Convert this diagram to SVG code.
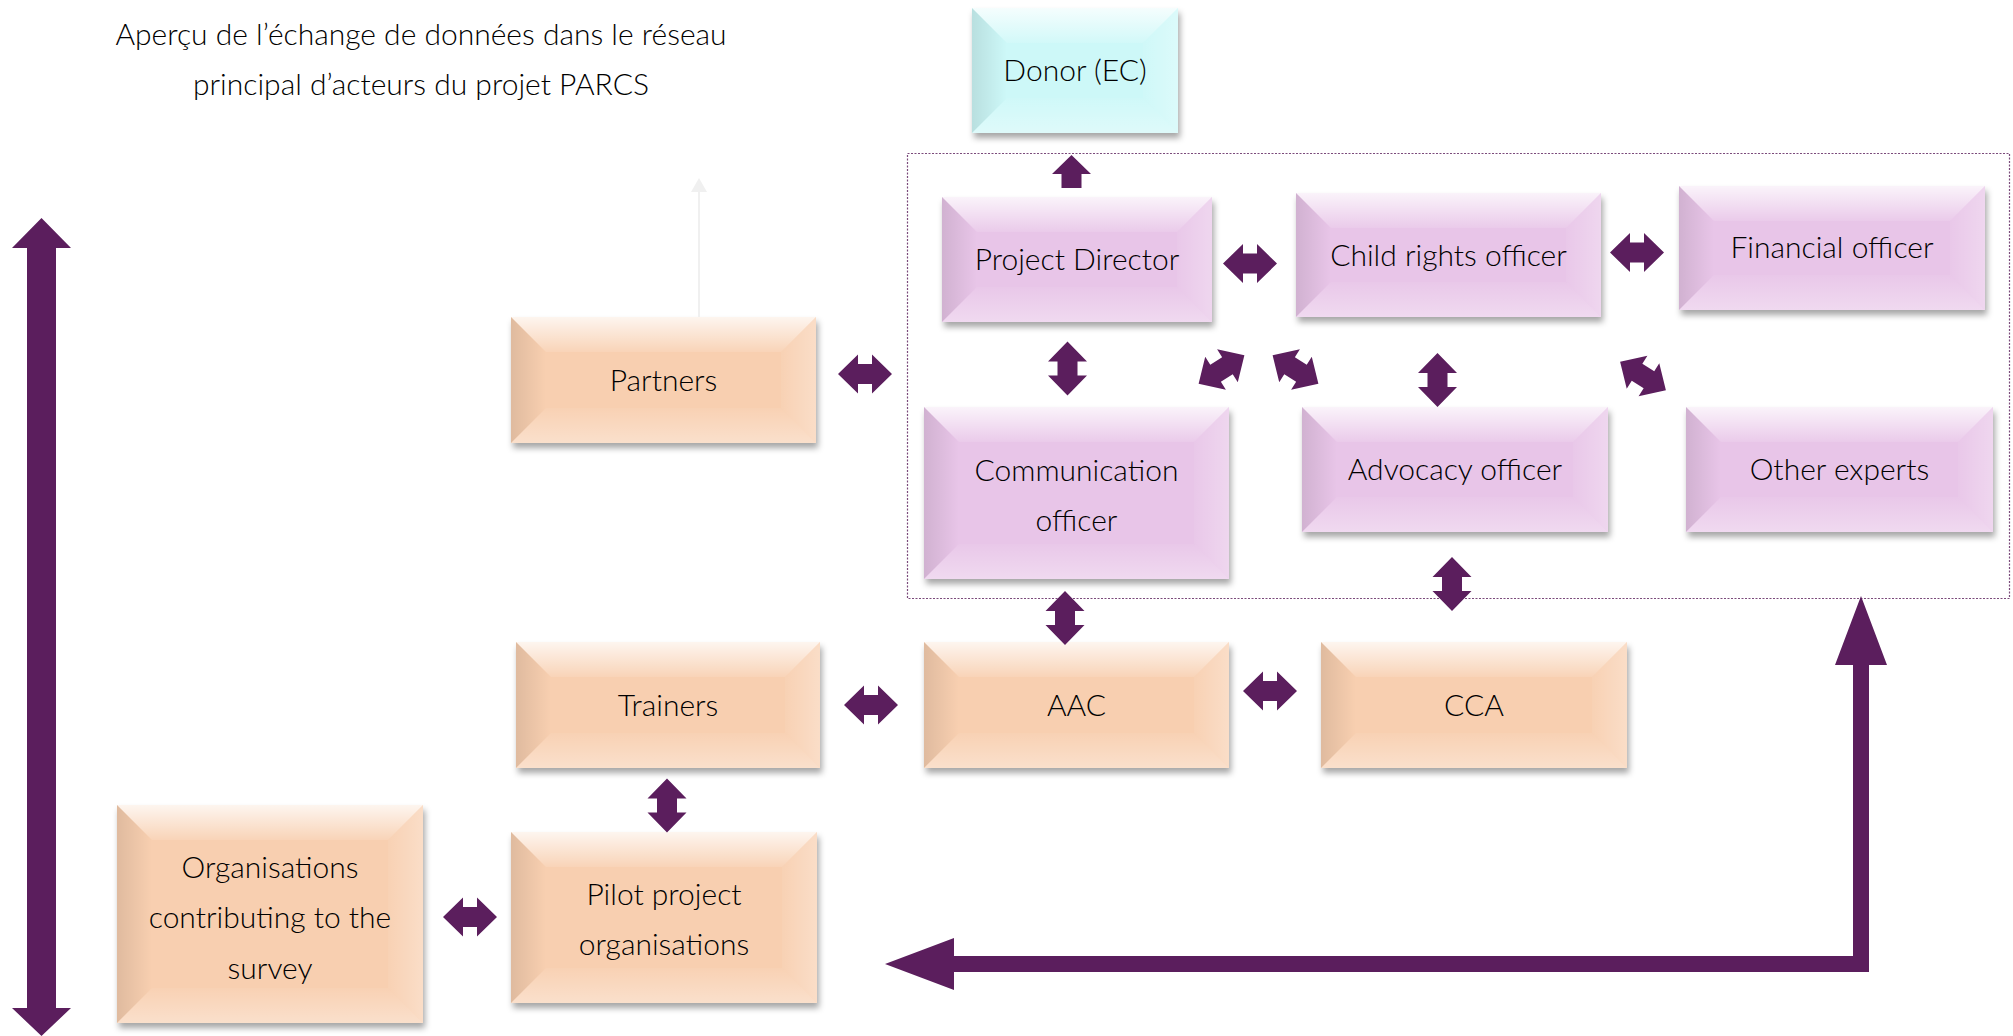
<svg xmlns="http://www.w3.org/2000/svg" width="2013" height="1036" viewBox="0 0 2013 1036">
<style>
.pink{fill:#e8c5e8}
.peach{fill:#f8cfb0}
.cyan{fill:#cdf8f8}
.bt{fill:url(#gTop)}
.bl{fill:url(#gLeft)}
.br{fill:url(#gRight)}
.bb{fill:url(#gBot)}
.lbl{font-family:Lato,"Open Sans","Liberation Sans",sans-serif;font-weight:300;font-size:30px;fill:#000;text-anchor:middle}
.title{font-family:Lato,"Open Sans","Liberation Sans",sans-serif;font-weight:300;font-size:30px;fill:#000;text-anchor:middle}
.arr{fill:#5b1e5d}
</style>
<defs>
<filter id="sh" x="-5%" y="-5%" width="115%" height="125%"><feDropShadow dx="2" dy="5" stdDeviation="3" flood-color="#000" flood-opacity="0.35"/></filter>
<linearGradient id="gTop" x1="0" y1="0" x2="0" y2="1"><stop offset="0" stop-color="#fff" stop-opacity="0.8"/><stop offset="1" stop-color="#fff" stop-opacity="0.1"/></linearGradient>
<linearGradient id="gLeft" x1="0" y1="0" x2="1" y2="0"><stop offset="0" stop-color="#000" stop-opacity="0.1"/><stop offset="1" stop-color="#000" stop-opacity="0"/></linearGradient>
<linearGradient id="gRight" x1="1" y1="0" x2="0" y2="0"><stop offset="0" stop-color="#fff" stop-opacity="0.3"/><stop offset="1" stop-color="#fff" stop-opacity="0.05"/></linearGradient>
<linearGradient id="gBot" x1="0" y1="1" x2="0" y2="0"><stop offset="0" stop-color="#fff" stop-opacity="0.35"/><stop offset="1" stop-color="#fff" stop-opacity="0.05"/></linearGradient>
<path id="dbl" d="M-27,0 L-7,-19.5 L-7,-10 L7,-10 L7,-19.5 L27,0 L7,19.5 L7,10 L-7,10 L-7,19.5 Z"/>
</defs>
<rect width="2013" height="1036" fill="#fff"/>

<g id="title">
<text class="title" x="421" y="45">Aperçu de l’échange de données dans le réseau</text>
<text class="title" x="421" y="95">principal d’acteurs du projet PARCS</text>
</g>

<rect id="core-team-frame" x="907.5" y="153.5" width="1102" height="445" fill="none" stroke="#7b4a7b" stroke-width="1.2" stroke-dasharray="2 1.5"/>

<g id="donor">
<rect class="cyan" x="972" y="8" width="206" height="125" filter="url(#sh)"/>
<polygon class="bt" points="972,8 1178,8 1143,43 1007,43"/>
<polygon class="bl" points="972,8 1007,43 1007,98 972,133"/>
<polygon class="br" points="1178,8 1178,133 1143,98 1143,43"/>
<polygon class="bb" points="972,133 1007,98 1143,98 1178,133"/>
<text class="lbl" x="1075" y="81">Donor (EC)</text>
</g>

<g id="project-director">
<rect class="pink" x="942" y="197" width="270" height="125" filter="url(#sh)"/>
<polygon class="bt" points="942,197 1212,197 1177,232 977,232"/>
<polygon class="bl" points="942,197 977,232 977,287 942,322"/>
<polygon class="br" points="1212,197 1212,322 1177,287 1177,232"/>
<polygon class="bb" points="942,322 977,287 1177,287 1212,322"/>
<text class="lbl" x="1077" y="270">Project Director</text>
</g>

<g id="child-rights-officer">
<rect class="pink" x="1296" y="193" width="305" height="124" filter="url(#sh)"/>
<polygon class="bt" points="1296,193 1601,193 1566,228 1331,228"/>
<polygon class="bl" points="1296,193 1331,228 1331,282 1296,317"/>
<polygon class="br" points="1601,193 1601,317 1566,282 1566,228"/>
<polygon class="bb" points="1296,317 1331,282 1566,282 1601,317"/>
<text class="lbl" x="1448.5" y="265.5">Child rights officer</text>
</g>

<g id="financial-officer">
<rect class="pink" x="1679" y="186" width="306" height="124" filter="url(#sh)"/>
<polygon class="bt" points="1679,186 1985,186 1950,221 1714,221"/>
<polygon class="bl" points="1679,186 1714,221 1714,275 1679,310"/>
<polygon class="br" points="1985,186 1985,310 1950,275 1950,221"/>
<polygon class="bb" points="1679,310 1714,275 1950,275 1985,310"/>
<text class="lbl" x="1832" y="258">Financial officer</text>
</g>

<g id="partners">
<rect class="peach" x="511" y="317" width="305" height="126" filter="url(#sh)"/>
<polygon class="bt" points="511,317 816,317 781,352 546,352"/>
<polygon class="bl" points="511,317 546,352 546,408 511,443"/>
<polygon class="br" points="816,317 816,443 781,408 781,352"/>
<polygon class="bb" points="511,443 546,408 781,408 816,443"/>
<text class="lbl" x="663.5" y="390.5">Partners</text>
</g>

<g id="communication-officer">
<rect class="pink" x="924" y="407" width="305" height="172" filter="url(#sh)"/>
<polygon class="bt" points="924,407 1229,407 1194,442 959,442"/>
<polygon class="bl" points="924,407 959,442 959,544 924,579"/>
<polygon class="br" points="1229,407 1229,579 1194,544 1194,442"/>
<polygon class="bb" points="924,579 959,544 1194,544 1229,579"/>
<text class="lbl" x="1076.5" y="481">Communication</text>
<text class="lbl" x="1076.5" y="531">officer</text>
</g>

<g id="advocacy-officer">
<rect class="pink" x="1302" y="407" width="306" height="125" filter="url(#sh)"/>
<polygon class="bt" points="1302,407 1608,407 1573,442 1337,442"/>
<polygon class="bl" points="1302,407 1337,442 1337,497 1302,532"/>
<polygon class="br" points="1608,407 1608,532 1573,497 1573,442"/>
<polygon class="bb" points="1302,532 1337,497 1573,497 1608,532"/>
<text class="lbl" x="1455" y="480">Advocacy officer</text>
</g>

<g id="other-experts">
<rect class="pink" x="1686" y="407" width="307" height="125" filter="url(#sh)"/>
<polygon class="bt" points="1686,407 1993,407 1958,442 1721,442"/>
<polygon class="bl" points="1686,407 1721,442 1721,497 1686,532"/>
<polygon class="br" points="1993,407 1993,532 1958,497 1958,442"/>
<polygon class="bb" points="1686,532 1721,497 1958,497 1993,532"/>
<text class="lbl" x="1839.5" y="480">Other experts</text>
</g>

<g id="trainers">
<rect class="peach" x="516" y="642" width="304" height="126" filter="url(#sh)"/>
<polygon class="bt" points="516,642 820,642 785,677 551,677"/>
<polygon class="bl" points="516,642 551,677 551,733 516,768"/>
<polygon class="br" points="820,642 820,768 785,733 785,677"/>
<polygon class="bb" points="516,768 551,733 785,733 820,768"/>
<text class="lbl" x="668" y="715.5">Trainers</text>
</g>

<g id="aac">
<rect class="peach" x="924" y="642" width="305" height="126" filter="url(#sh)"/>
<polygon class="bt" points="924,642 1229,642 1194,677 959,677"/>
<polygon class="bl" points="924,642 959,677 959,733 924,768"/>
<polygon class="br" points="1229,642 1229,768 1194,733 1194,677"/>
<polygon class="bb" points="924,768 959,733 1194,733 1229,768"/>
<text class="lbl" x="1076.5" y="715.5">AAC</text>
</g>

<g id="cca">
<rect class="peach" x="1321" y="642" width="306" height="126" filter="url(#sh)"/>
<polygon class="bt" points="1321,642 1627,642 1592,677 1356,677"/>
<polygon class="bl" points="1321,642 1356,677 1356,733 1321,768"/>
<polygon class="br" points="1627,642 1627,768 1592,733 1592,677"/>
<polygon class="bb" points="1321,768 1356,733 1592,733 1627,768"/>
<text class="lbl" x="1474" y="715.5">CCA</text>
</g>

<g id="organisations-survey">
<rect class="peach" x="117" y="805" width="306" height="218" filter="url(#sh)"/>
<polygon class="bt" points="117,805 423,805 388,840 152,840"/>
<polygon class="bl" points="117,805 152,840 152,988 117,1023"/>
<polygon class="br" points="423,805 423,1023 388,988 388,840"/>
<polygon class="bb" points="117,1023 152,988 388,988 423,1023"/>
<text class="lbl" x="270" y="878">Organisations</text>
<text class="lbl" x="270" y="928">contributing to the</text>
<text class="lbl" x="270" y="979">survey</text>
</g>

<g id="pilot-project-organisations">
<rect class="peach" x="511" y="832" width="306" height="171" filter="url(#sh)"/>
<polygon class="bt" points="511,832 817,832 782,867 546,867"/>
<polygon class="bl" points="511,832 546,867 546,968 511,1003"/>
<polygon class="br" points="817,832 817,1003 782,968 782,867"/>
<polygon class="bb" points="511,1003 546,968 782,968 817,1003"/>
<text class="lbl" x="664" y="905">Pilot project</text>
<text class="lbl" x="664" y="955">organisations</text>
</g>

<g id="connectors">
<g stroke="#f0f0f0" fill="#f0f0f0">
<line x1="699" y1="317" x2="699" y2="190" stroke-width="2"/>
<polygon points="699,178 707,192 691,192" stroke="none"/>
</g>
<polygon class="arr" points="1071.5,155 1091,174 1081.5,174 1081.5,188 1061.5,188 1061.5,174 1052,174"/>
<use class="arr" href="#dbl" transform="translate(1250,263.5)"/>
<use class="arr" href="#dbl" transform="translate(1637,252.5)"/>
<use class="arr" href="#dbl" transform="translate(1067.5,368.5) rotate(90)"/>
<use class="arr" href="#dbl" transform="translate(1221.5,369.5) rotate(-32)"/>
<use class="arr" href="#dbl" transform="translate(1295.5,369.5) rotate(32)"/>
<use class="arr" href="#dbl" transform="translate(1437.5,380) rotate(90)"/>
<use class="arr" href="#dbl" transform="translate(1643,376) rotate(32)"/>
<use class="arr" href="#dbl" transform="translate(865,374)"/>
<use class="arr" href="#dbl" transform="translate(1065,618) rotate(90)"/>
<use class="arr" href="#dbl" transform="translate(1452,584) rotate(90)"/>
<use class="arr" href="#dbl" transform="translate(871,705)"/>
<use class="arr" href="#dbl" transform="translate(1270,691)"/>
<use class="arr" href="#dbl" transform="translate(667,805.5) rotate(90)"/>
<use class="arr" href="#dbl" transform="translate(470,917)"/>
<polygon class="arr" points="41.5,218 71,248 56,248 56,1008 71,1008 41.5,1036 12,1008 27,1008 27,248 12,248"/>
<polygon class="arr" points="885,964 954,938 954,956 1853,956 1853,665 1835,665 1861,596 1887,665 1869,665 1869,972 954,972 954,990"/>
</g>
</svg>
